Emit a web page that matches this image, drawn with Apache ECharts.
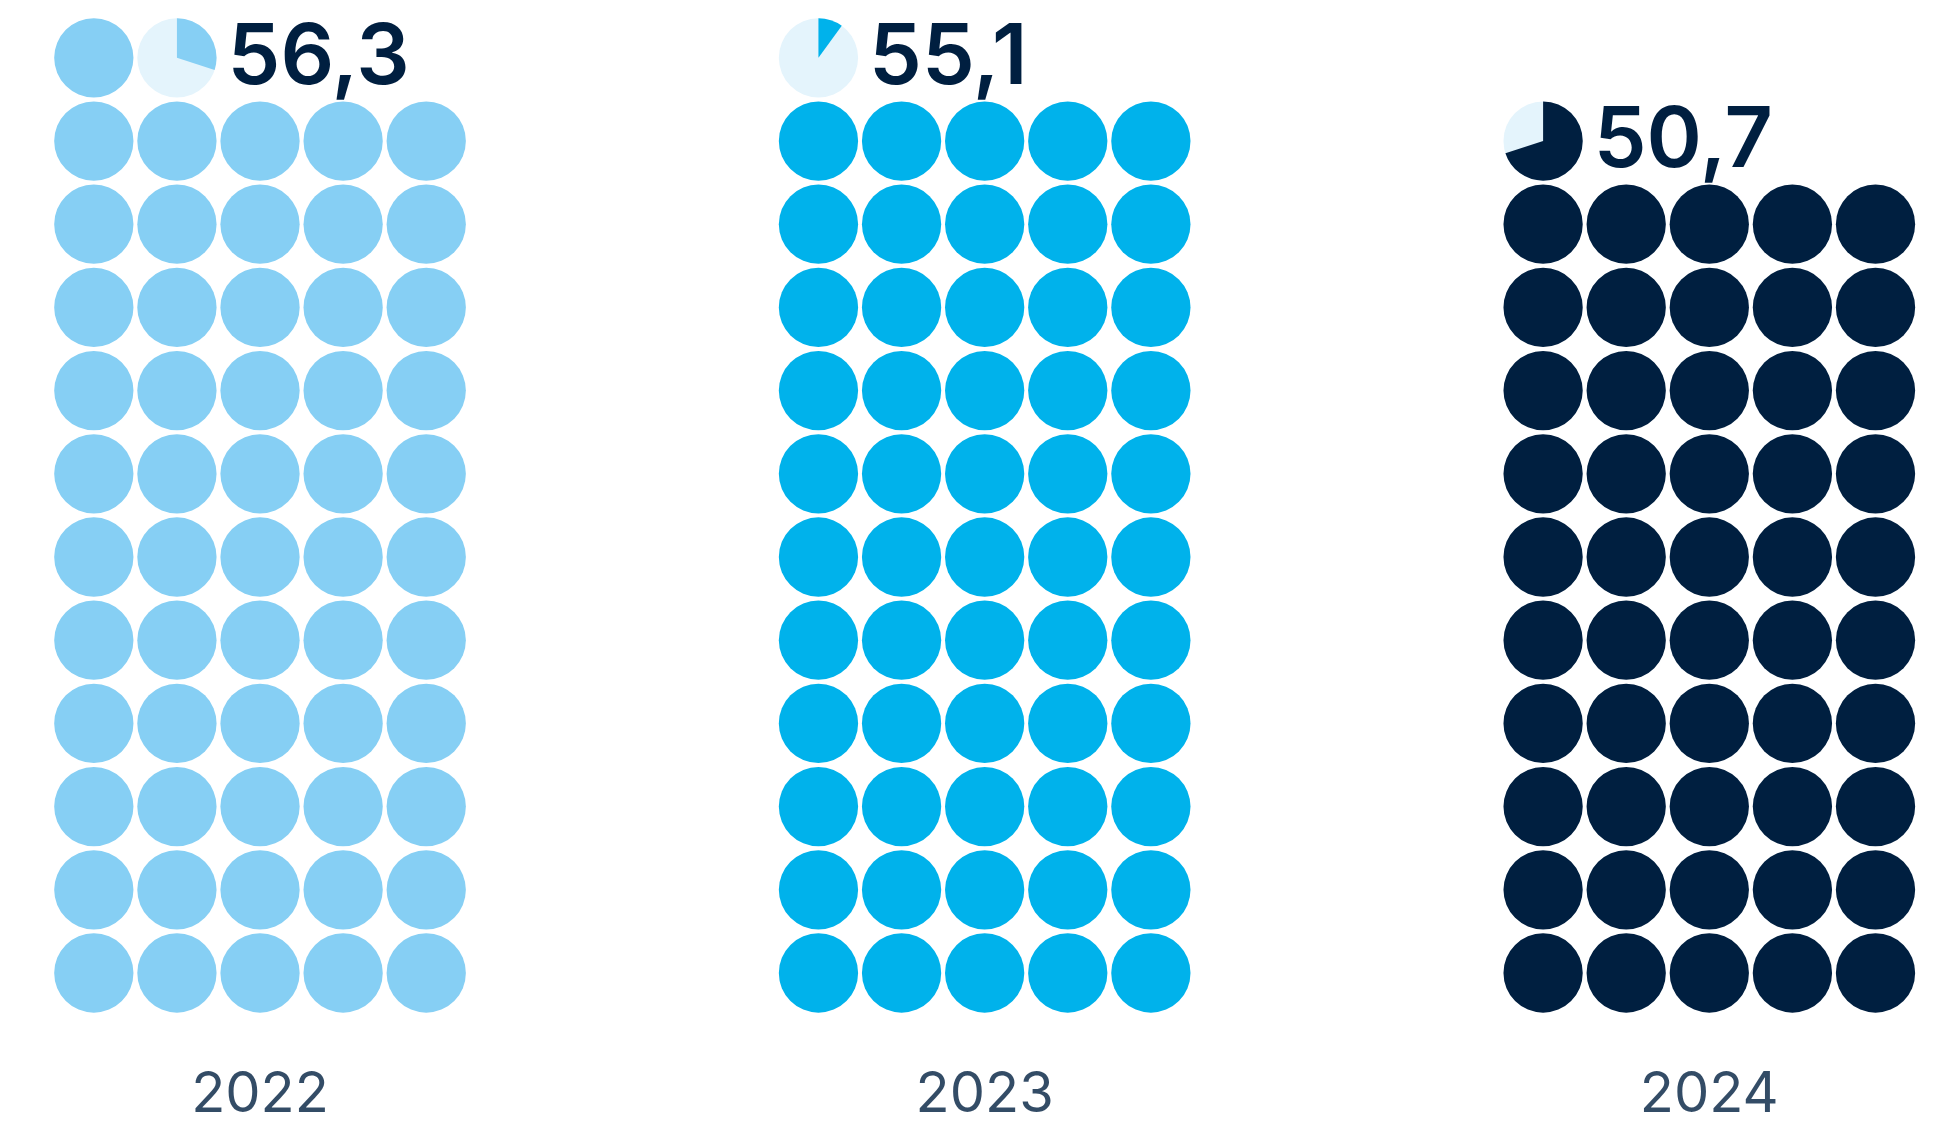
<!DOCTYPE html>
<html>
<head>
<meta charset="utf-8">
<title>Pictogram</title>
<script src="https://cdn.jsdelivr.net/npm/echarts@6/dist/echarts.min.js"></script>
<style>
  html, body { margin: 0; padding: 0; background: #ffffff; }
  #chart { width: 1937px; height: 1123px; }
</style>
</head>
<body>
<div id="chart"></div>
<script>
// Yearly totals, one dot per whole unit, the fraction shown as a pie dot
const years = ['2022', '2023', '2024'];
const values = [56.3, 55.1, 50.7];
const colors = ['#86CFF4', '#00B2EB', '#001F40'];

const PER_ROW = 5;          // dots per row
const GROUP_GAP = 8.72;     // distance between year blocks, in dot slots
const DOT_SCALE = 0.477;    // dot radius relative to one slot
const YEAR_ROW = -1.47;     // row where year captions sit
const TEXT = '#001F40';
const EMPTY = '#E4F4FC';
const FONT = 'Inter, "Noto Sans", sans-serif';

// Build the dot list: [x, y, fraction, yearIndex]
const dots = [];
values.forEach(function (v, g) {
  const whole = Math.floor(v);
  const frac = Math.round((v - whole) * 10) / 10;
  const cx = g * GROUP_GAP;
  const total = whole + (frac > 0 ? 1 : 0);
  for (let i = 0; i < total; i++) {
    const col = i % PER_ROW;
    const row = Math.floor(i / PER_ROW);
    const f = i < whole ? 1 : frac;
    dots.push([cx + col - 2, row, f, g]);
  }
});

const yearLabels = years.map(function (y, g) {
  return { value: [g * GROUP_GAP, YEAR_ROW], name: y };
});

const chart = echarts.init(document.getElementById('chart'), null, { renderer: 'canvas' });

chart.setOption({
  animation: false,
  backgroundColor: '#ffffff',
  grid: { left: 0, right: 0, top: 0, bottom: 0 },
  xAxis: { type: 'value', min: -3.129, max: 20.18, show: false },
  yAxis: { type: 'value', min: -1.803, max: 11.695, show: false },
  series: [
    {
      type: 'custom',
      data: dots,
      encode: { x: 0, y: 1 },
      renderItem: function (params, api) {
        const p = api.coord([api.value(0), api.value(1)]);
        const unit = api.size([1, 1]);
        const r = Math.min(unit[0], unit[1]) * DOT_SCALE;
        const frac = api.value(2);
        const g = api.value(3);
        const color = colors[g];
        if (frac >= 1) {
          return {
            type: 'circle',
            shape: { cx: p[0], cy: p[1], r: r },
            style: { fill: color }
          };
        }
        const start = -Math.PI / 2;
        return {
          type: 'group',
          children: [
            {
              type: 'circle',
              shape: { cx: p[0], cy: p[1], r: r },
              style: { fill: EMPTY }
            },
            {
              type: 'sector',
              shape: {
                cx: p[0], cy: p[1], r: r, r0: 0,
                startAngle: start,
                endAngle: start + frac * Math.PI * 2,
                clockwise: true
              },
              style: { fill: color }
            },
            {
              type: 'text',
              style: {
                text: String(values[g]).replace('.', ','),
                x: p[0] + r + 11,
                y: p[1] + 1,
                fill: TEXT,
                fontFamily: FONT,
                fontWeight: 600,
                fontSize: 84,
                align: 'left',
                verticalAlign: 'middle'
              }
            }
          ]
        };
      }
    },
    {
      type: 'scatter',
      data: yearLabels,
      symbolSize: 0,
      silent: true,
      label: {
        show: true,
        position: 'inside',
        formatter: function (p) { return p.name; },
        color: TEXT,
        fontFamily: FONT,
        fontWeight: 400,
        fontSize: 56
      }
    }
  ]
});
</script>
</body>
</html>
